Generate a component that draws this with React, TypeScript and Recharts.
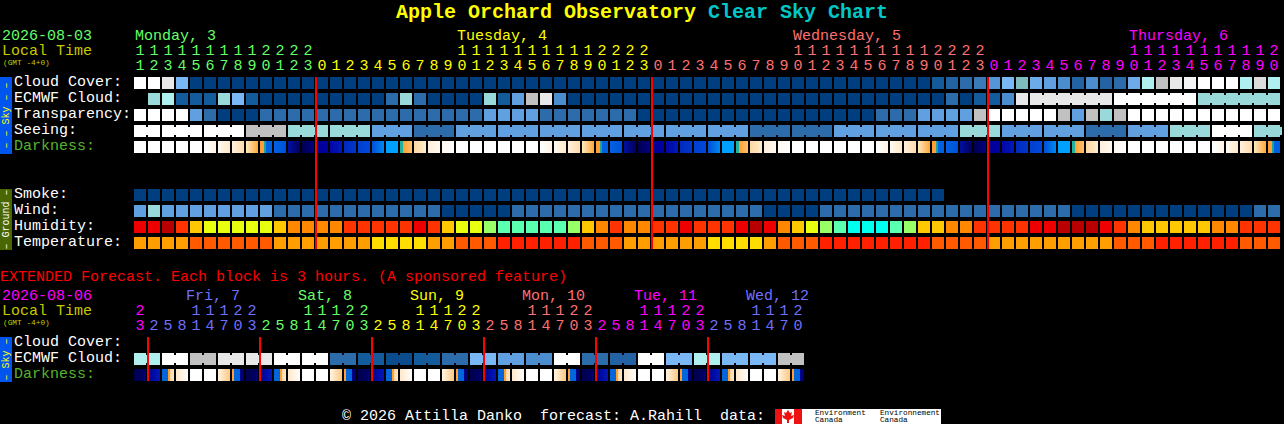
import React from "react";
import { ScatterChart, Scatter, XAxis, YAxis, ReferenceLine } from "recharts";

// hour of each column in the hourly chart
const HOURS = [
  11, 12, 13, 14, 15, 16, 17, 18, 19, 20, 21, 22, 23,
  0, 1, 2, 3, 4, 5, 6, 7, 8, 9, 10, 11, 12, 13, 14, 15, 16, 17, 18, 19, 20, 21, 22, 23,
  0, 1, 2, 3, 4, 5, 6, 7, 8, 9, 10, 11, 12, 13, 14, 15, 16, 17, 18, 19, 20, 21, 22, 23,
  0, 1, 2, 3, 4, 5, 6, 7, 8, 9, 10, 11, 12, 13, 14, 15, 16, 17, 18, 19, 20,
];
const DAY_NAMES = ["Monday, 3", "Tuesday, 4", "Wednesday, 5", "Thursday, 6"];
const DAY_START_COLS = [0, 13, 37, 61];
const DAY_LABEL_COLS = [0, 23, 47, 71];
const MIDNIGHT_COLS = [13, 37, 61];

// sky rows, percent scale of the cloud palette (null = no forecast)
const CLOUD = [
  100, 100, 90, 50, 0, 0, 0, 0, 0, 0, 0, 0, 0, 0, 0, 0, 0, 0, 0, 0, 0, 0, 0, 0, 0, 0, 0, 0, 0, 0, 0, 0, 0, 0, 0, 0, 0, 0, 0, 0, 0,
  0, 0, 0, 0, 0, 0, 0, 0, 0, 0, 0, 0, 0, 0, 0, 0, 10, 15, 20, 25, 35, 50, 55, 45, 40, 30, 15, 30, 15, 20, 45, 70, 80, 90, 95, 100, 100, 100, 70, 85, 70,
];
const ECMWF = [
  null, 60, 70, 10, 10, 10, 60, 50, 10, 0, 0, 0, 0, 0, 0, 0, 0, 0, 20, 60, 20, 0, 0, 0, 0, 60, 10, 40, 80, 90, 30, 0, 0, 0, 0, 0, 0, 0, 0, 0, 0,
  0, 0, 0, 0, 0, 0, 0, 0, 0, 0, 0, 0, 0, 0, 0, 0, 0, 20, 0, 10, 10, 30, 90, 90, 90, 90, 90, 90, 90, 100, 100, 100, 100, 100, 100, 60, 60, 60, 60, 60, 60,
];
const TRANSPARENCY = [
  100, 100, 100, 100, 40, 20, 0, 0, 0, 20, 20, 20, 20, 20, 20, 20, 20, 20, 20, 20, 20, 20, 20, 20, 20, 40, 40, 40, 40, 20, 20, 20, 20, 20, 20, 20, 0, 0, 0, 0, 0,
  0, 0, 0, 0, 0, 0, 0, 0, 0, 0, 0, 0, 20, 20, 20, 40, 40, 40, 40, 80, 100, 100, 100, 100, 100, 80, 40, 80, 60, 80, 100, 100, 100, 100, 100, 100, 100, 100, 100, 100, 100,
];
const SEEING = [
  100, 100, 100, 100, 100, 100, 100, 100, 80, 80, 80, 60, 60, 60, 60, 60, 60, 40, 40, 40, 20, 20, 20, 40, 40, 40, 40, 40, 40, 40, 40, 40, 40, 40, 40, 40, 40, 40, 40, 40, 40,
  40, 40, 40, 20, 20, 20, 20, 20, 20, 40, 40, 40, 40, 40, 40, 40, 40, 40, 60, 60, 60, 40, 40, 40, 40, 40, 40, 20, 20, 20, 40, 40, 40, 60, 60, 60, 100, 100, 100, 60, 60,
];
const SEEING_GROUPS = [2, 3, 3, 3, 3, 3, 3, 3, 3, 3, 3, 3, 3, 3, 3, 3, 3, 3, 3, 3, 3, 3, 3, 3, 3, 3, 3, 3, 2];
const ECMWF_SINGLE_COLS = 64;
const ECMWF_GROUPS = [6, 6, 6];
const DARKNESS = [
  0, 0, 0, 0, 0, 1, 2, 3, 4, 5, 6, 7, 8, 9, 10, 11, 12, 13, 14, 15, 16, 17, 18, 0,
  0, 0, 0, 0, 0, 1, 2, 3, 4, 5, 6, 7, 8, 9, 10, 11, 12, 13, 14, 15, 16, 17, 18, 0,
  0, 0, 0, 0, 0, 1, 2, 3, 4, 5, 6, 7, 8, 9, 10, 11, 12, 13, 14, 15, 16, 17, 18, 0,
  0, 0, 0, 0, 0, 1, 2, 3, 4, 5,
];

// ground rows
const SMOKE = [
  0, 0, 0, 0, 0, 0, 0, 0, 0, 0, 0, 0, 0, 0, 0, 0, 0, 0, 0, 0, 0, 0, 0, 0, 0, 0, 0, 0, 0,
  0, 0, 0, 0, 0, 0, 0, 0, 0, 0, 0, 0, 0, 0, 0, 0, 0, 0, 0, 0, 0, 0, 0, 0, 0, 0, 0, 0, 0,
];
const WIND = [
  40, 60, 40, 40, 40, 40, 40, 40, 40, 40, 20, 20, 20, 20, 20, 20, 20, 20, 20, 20, 20, 20, 0, 0, 0, 0, 0, 20, 20, 20, 20, 20, 20, 20, 20, 20, 20, 20, 20, 20, 20,
  20, 20, 20, 20, 0, 0, 0, 0, 20, 20, 20, 20, 20, 20, 20, 20, 20, 20, 20, 20, 20, 20, 20, 20, 20, 20, 0, 0, 0, 0, 0, 0, 0, 0, 0, 0, 0, 0, 0, 20, 20,
];
const HUMIDITY = [
  7, 7, 8, 6, 4, 3, 3, 3, 3, 3, 4, 5, 5, 5, 5, 6, 6, 6, 6, 6, 7, 6, 4, 3, 3, 2, 1, 1, 1, 1, 1, 2, 4, 5, 6, 5, 5, 6, 6, 7, 6,
  6, 6, 7, 8, 7, 5, 4, 3, 2, 1, 0, 0, 0, 1, 2, 4, 4, 5, 5, 6, 6, 6, 6, 7, 7, 8, 8, 8, 7, 6, 5, 4, 4, 4, 4, 4, 5, 5, 6, 6, 6,
];
const TEMPERATURE = [
  2, 2, 2, 2, 1, 1, 1, 1, 1, 1, 2, 2, 2, 2, 2, 2, 2, 3, 3, 3, 3, 2, 2, 1, 1, 1, 0, 0, 0, 0, 0, 0, 1, 1, 1, 2, 2, 2, 2, 2, 2,
  3, 3, 3, 3, 2, 1, 1, 1, 0, 0, 0, 0, 0, 0, 0, 0, 1, 1, 1, 1, 2, 2, 2, 2, 2, 2, 2, 2, 2, 1, 1, 1, 0, 0, 0, 0, 0, 0, 1, 1, 1,
];

// extended forecast, 3 hour blocks
const EXT_HOURS = [
  23, 2, 5, 8, 11, 14, 17, 20, 23, 2, 5, 8, 11, 14, 17, 20, 23, 2, 5, 8, 11, 14, 17, 20,
  23, 2, 5, 8, 11, 14, 17, 20, 23, 2, 5, 8, 11, 14, 17, 20, 23, 2, 5, 8, 11, 14, 17, 20,
];
const EXT_DAY_NAMES = ["", "Fri, 7", "Sat, 8", "Sun, 9", "Mon, 10", "Tue, 11", "Wed, 12"];
const EXT_DAY_START_COLS = [0, 1, 9, 17, 25, 33, 41];
const EXT_DAY_LABEL_COLS = [-1, 4, 12, 20, 28, 36, 44];
const EXT_MIDNIGHT_COLS = [1, 9, 17, 25, 33, 41];
const EXT_ECMWF = [
  70, 70, 100, 100, 80, 80, 90, 90, 90, 90, 100, 100, 100, 100, 20, 20, 10, 10, 5, 5, 10, 10, 20, 20,
  50, 50, 40, 40, 30, 30, 100, 100, 20, 20, 15, 15, 100, 100, 50, 50, 70, 70, 50, 50, 50, 50, 80, 80,
];
const EXT_ECMWF_GROUPS = [2, 2, 2, 2, 2, 2, 2, 2, 2, 2, 2, 2, 2, 2, 2, 2, 2, 2, 2, 2, 2, 2, 2, 2];
const EXT_DARKNESS = [
  0, 1, 2, 3, 4, 4, 6, 7, 0, 1, 2, 3, 4, 4, 6, 7, 0, 1, 2, 3, 4, 4, 6, 7,
  0, 1, 2, 3, 4, 4, 6, 7, 0, 1, 2, 3, 4, 4, 6, 7, 0, 1, 2, 3, 4, 4, 6, 7,
];

const ROW_LABELS = ["Cloud Cover:", "ECMWF Cloud:", "Transparency:", "Seeing:", "Darkness:", "", "", "Smoke:", "Wind:", "Humidity:", "Temperature:"];
const EXT_ROW_LABELS = ["Cloud Cover:", "ECMWF Cloud:", "Darkness:"];

const FONT = '"Liberation Mono", monospace';
const DAY_COLORS = ["#66ff66", "#ffff00", "#ff7070", "#ff00ff"];
const EXT_DAY_COLORS = ["#ff00ff", "#7070ff", "#66ff66", "#ffff00", "#ff7070", "#ff00ff", "#7070ff"];

const CLOUD_COLORS: Record<number, string> = {
  0: "#003f7f",
  5: "#0b4c8c",
  10: "#135b9a",
  15: "#2363a3",
  20: "#2c6cab",
  25: "#3a7ab8",
  30: "#4c8dcf",
  35: "#5596d8",
  40: "#60a0e0",
  45: "#6caceb",
  50: "#7ab8f5",
  55: "#7fbcc0",
  60: "#99d9d9",
  70: "#afefef",
  80: "#c1c1c1",
  85: "#dcdcdc",
  90: "#e8e8e8",
  95: "#f4f4f4",
  100: "#ffffff",
};
const HUMIDITY_COLORS = ["#00ffee", "#5affb0", "#99ff66", "#e8ff10", "#ffc800", "#ff8800", "#ff3300", "#ee0000", "#b80000"];
const TEMPERATURE_COLORS = ["#ff2000", "#ff5a00", "#ff9e00", "#ffdd00"];

type Stop = [number, string];
const DARK_STOPS: Stop[][] = [
  [[0, "#ffffff"], [1, "#ffffff"]],
  [[0, "#ffffff"], [1, "#fff4e4"]],
  [[0, "#fffaf2"], [1, "#ffe8c8"]],
  [[0, "#fff0dc"], [1, "#ffdcae"]],
  [[0, "#ffe8c0"], [1, "#ffa838"]],
  [[0, "#ffa030"], [0.33, "#ffa030"], [0.33, "#20a0a0"], [0.5, "#20a0a0"], [0.5, "#0060e0"], [1, "#0060e0"]],
  [[0, "#0062e2"], [1, "#0052d8"]],
  [[0, "#0010a0"], [1, "#000060"]],
  [[0, "#000050"], [1, "#000080"]],
  [[0, "#000090"], [1, "#0000a8"]],
  [[0, "#0008a8"], [1, "#0018b8"]],
  [[0, "#0028c0"], [1, "#0038c8"]],
  [[0, "#0040d0"], [1, "#0048d8"]],
  [[0, "#0050d8"], [1, "#0088f0"]],
  [[0, "#00a0ff"], [1, "#00a0ff"]],
  [[0, "#20b0a0"], [0.25, "#20b0a0"], [0.25, "#ffa030"], [1, "#ffc070"]],
  [[0, "#ffd8a0"], [1, "#ffeccc"]],
  [[0, "#fff0dc"], [1, "#fff8ee"]],
  [[0, "#fff8f0"], [1, "#ffffff"]],
];
const EXT_DARK_STOPS: Stop[][] = [
  [[0, "#000050"], [0.7, "#000060"], [1, "#000080"]],
  [[0, "#000090"], [1, "#0018b8"]],
  [[0, "#0066dd"], [0.5, "#0066dd"], [0.5, "#ffa030"], [0.67, "#ffa030"], [0.67, "#ffd8a0"], [1, "#ffe8c8"]],
  [[0, "#ffe8c8"], [1, "#ffffff"]],
  [[0, "#ffffff"], [1, "#ffffff"]],
  [[0, "#ffffff"], [1, "#ffffff"]],
  [[0, "#fff4e4"], [1, "#ffc880"]],
  [[0, "#ffa030"], [0.17, "#ffa030"], [0.17, "#0066dd"], [0.67, "#0066dd"], [0.67, "#000090"], [1, "#000060"]],
];

// every block except the last of a group gets a bridge to its neighbour
function bridged(groups: number[], skip = 0) {
  const out: boolean[] = new Array(skip).fill(false);
  groups.forEach((n) => {
    for (let i = 0; i < n; i++) out.push(i < n - 1);
  });
  return out;
}

function toPoints(values: (number | null)[], row: number, fills: (v: number) => string, joins?: boolean[]) {
  const pts: { col: number; row: number; fill: string; join: boolean }[] = [];
  values.forEach((v, col) => {
    if (v === null) return;
    pts.push({ col, row, fill: fills(v), join: !!joins?.[col] });
  });
  return pts;
}

function Block(props: any) {
  const { cx, cy, payload } = props;
  return (
    <g>
      <rect x={cx - 6} y={cy - 6} width={12} height={12} fill={payload.fill} />
      {payload.join && <rect x={cx + 6} y={cy - 4} width={2} height={8} fill={payload.fill} />}
    </g>
  );
}

function Gradients({ prefix, table }: { prefix: string; table: Stop[][] }) {
  return (
    <defs>
      {table.map((stops, i) => (
        <linearGradient key={i} id={`${prefix}${i}`} x1="0" y1="0" x2="1" y2="0">
          {stops.map(([o, c], j) => (
            <stop key={j} offset={o} stopColor={c} />
          ))}
        </linearGradient>
      ))}
    </defs>
  );
}

function hourTick(
  hours: number[],
  starts: number[],
  colors: string[],
  labelCols: number[],
  names: string[],
  nameShift: number,
  top: number,
) {
  return (props: any) => {
    const col = props.payload.value as number;
    const hour = hours[col];
    let day = 0;
    starts.forEach((s, i) => {
      if (col >= s) day = i;
    });
    const labelIdx = labelCols.indexOf(col);
    return (
      <g fontFamily={FONT} fontSize={15}>
        {labelIdx >= 0 && (
          <text x={props.x + nameShift} y={top} fill={colors[labelIdx]} style={{ whiteSpace: "pre" }}>
            {names[labelIdx]}
          </text>
        )}
        {hour >= 10 && (
          <text x={props.x} y={top + 15} textAnchor="middle" fill={colors[day]}>
            {Math.floor(hour / 10)}
          </text>
        )}
        <text x={props.x} y={top + 30} textAnchor="middle" fill={colors[day]}>
          {hour % 10}
        </text>
      </g>
    );
  };
}

function rowTick(labels: string[]) {
  return (props: any) => {
    const label = labels[props.payload.value];
    return (
      <text x={14} y={props.y + 3} fontFamily={FONT} fontSize={15} fill={label === "Darkness:" ? "#55b52a" : "#ffffff"}>
        {label}
      </text>
    );
  };
}

const mainCols = HOURS.map((_, i) => i);
const extCols = EXT_HOURS.map((_, i) => i);
const cloudFill = (v: number) => CLOUD_COLORS[v];
const mainRows = [
  toPoints(CLOUD, 0, cloudFill),
  toPoints(ECMWF, 1, cloudFill, bridged(ECMWF_GROUPS, ECMWF_SINGLE_COLS)),
  toPoints(TRANSPARENCY, 2, cloudFill),
  toPoints(SEEING, 3, cloudFill, bridged(SEEING_GROUPS)),
  toPoints(DARKNESS, 4, (v) => `url(#dark${v})`),
  toPoints(SMOKE, 7, cloudFill),
  toPoints(WIND, 8, cloudFill),
  toPoints(HUMIDITY, 9, (v) => HUMIDITY_COLORS[v]),
  toPoints(TEMPERATURE, 10, (v) => TEMPERATURE_COLORS[v]),
];
const extRows = [
  toPoints(EXT_ECMWF, 1, cloudFill, bridged(EXT_ECMWF_GROUPS)),
  toPoints(EXT_DARKNESS, 2, (v) => `url(#extdark${v})`),
];

const layer: React.CSSProperties = { position: "absolute", left: 0, top: 0 };

function Band({ top, bottom, fill, color, text }: { top: number; bottom: number; fill: string; color: string; text: string }) {
  const mid = (top + bottom) / 2;
  return (
    <g>
      <rect x={0} y={top} width={12} height={bottom - top} fill={fill} />
      <text
        x={6}
        y={mid}
        transform={`rotate(-90 6 ${mid})`}
        textAnchor="middle"
        dominantBaseline="central"
        fontFamily={FONT}
        fontSize={10}
        fill={color}
        style={{ whiteSpace: "pre" }}
      >
        {text}
      </text>
    </g>
  );
}

function T({ x, y, fill, size = 15, children }: { x: number; y: number; fill: string; size?: number; children: React.ReactNode }) {
  return (
    <text x={x} y={y} fill={fill} fontFamily={FONT} fontSize={size} style={{ whiteSpace: "pre" }}>
      {children}
    </text>
  );
}

function Overlay() {
  return (
    <svg width={1284} height={424} style={layer}>
      <text y={18} fontFamily={FONT} fontSize={20} fontWeight="bold" style={{ whiteSpace: "pre" }}>
        <tspan x={396} fill="#ffff00">Apple Orchard Observatory</tspan>
        <tspan fill="#00c8c8"> Clear Sky Chart</tspan>
      </text>
      <T x={2} y={40} fill="#66ff66">2026-08-03</T>
      <T x={2} y={55} fill="#c8c800">Local Time</T>
      <T x={3} y={65} fill="#c8c800" size={7.8}>(GMT -4+0)</T>
      <Band top={77} bottom={154} fill="#0055ee" color="#ffff00" text="– – Sky – –" />
      <Band top={189} bottom={250} fill="#4a6600" color="#ffffff" text="– Ground –" />
      <T x={0} y={281} fill="#ff0000">EXTENDED Forecast. Each block is 3 hours. (A sponsored feature)</T>
      <T x={2} y={300} fill="#ff00ff">2026-08-06</T>
      <T x={2} y={315} fill="#c8c800">Local Time</T>
      <T x={3} y={325} fill="#c8c800" size={7.8}>(GMT -4+0)</T>
      <Band top={337} bottom={382} fill="#0055ee" color="#ffff00" text="– Sky –" />
      <T x={342} y={420} fill="#ffffff">© 2026 Attilla Danko  forecast: A.Rahill  data:</T>
      <rect x={775} y={409} width={166} height={15} fill="#ffffff" />
      <rect x={775} y={409} width={7} height={15} fill="#ee1111" />
      <rect x={794} y={409} width={8} height={15} fill="#ee1111" />
      <polygon points="788,410 790,413 792,412 791,416 794,415 793,418 789,420 789,423 787,423 787,420 783,418 782,415 785,416 784,412 786,413" fill="#ee1111" />
      <T x={815} y={415} fill="#000000" size={7.7}>Environment</T>
      <T x={815} y={422} fill="#000000" size={7.7}>Canada</T>
      <T x={880} y={415} fill="#000000" size={7.7}>Environnement</T>
      <T x={880} y={422} fill="#000000" size={7.7}>Canada</T>
    </svg>
  );
}

export default function App() {
  return (
    <div style={{ position: "absolute", left: 0, top: 0, width: 1284, height: 424, background: "#000000", overflow: "hidden" }}>
      <style>{"body{margin:0;background:#000}"}</style>
      <Overlay />
      <div style={layer}>
        <ScatterChart width={1284} height={424} margin={{ top: 74, right: 3, bottom: 173, left: 132 }}>
          <Gradients prefix="dark" table={DARK_STOPS} />
          <XAxis
            type="number"
            dataKey="col"
            orientation="top"
            height={1}
            domain={[-0.5, 81.5]}
            ticks={mainCols}
            interval={0}
            axisLine={false}
            tickLine={false}
            tick={hourTick(HOURS, DAY_START_COLS, DAY_COLORS, DAY_LABEL_COLS, DAY_NAMES, -5, 40)}
          />
          <YAxis
            type="number"
            dataKey="row"
            width={1}
            reversed
            domain={[-0.5, 10.5]}
            ticks={[0, 1, 2, 3, 4, 7, 8, 9, 10]}
            interval={0}
            axisLine={false}
            tickLine={false}
            tick={rowTick(ROW_LABELS)}
          />
          {mainRows.map((pts, i) => (
            <Scatter key={i} data={pts} shape={Block} isAnimationActive={false} />
          ))}
          {MIDNIGHT_COLS.map((c) => (
            <ReferenceLine
              key={c}
              segment={[{ x: c - 0.43, y: -0.375 }, { x: c - 0.43, y: 10.375 }]}
              stroke="#ff0000"
              strokeWidth={2}
              zIndex={1000}
            />
          ))}
        </ScatterChart>
      </div>
      <div style={layer}>
        <ScatterChart width={1284} height={424} margin={{ top: 334, right: 479, bottom: 41, left: 132 }}>
          <Gradients prefix="extdark" table={EXT_DARK_STOPS} />
          <XAxis
            type="number"
            dataKey="col"
            orientation="top"
            height={1}
            domain={[-0.5, 47.5]}
            ticks={extCols}
            interval={0}
            axisLine={false}
            tickLine={false}
            tick={hourTick(EXT_HOURS, EXT_DAY_START_COLS, EXT_DAY_COLORS, EXT_DAY_LABEL_COLS, EXT_DAY_NAMES, -10, 300)}
          />
          <YAxis
            type="number"
            dataKey="row"
            width={1}
            reversed
            domain={[-0.5, 2.5]}
            ticks={[0, 1, 2]}
            interval={0}
            axisLine={false}
            tickLine={false}
            tick={rowTick(EXT_ROW_LABELS)}
          />
          {extRows.map((pts, i) => (
            <Scatter key={i} data={pts} shape={Block} isAnimationActive={false} />
          ))}
          {EXT_MIDNIGHT_COLS.map((c) => (
            <ReferenceLine
              key={c}
              segment={[{ x: c - 0.43, y: -0.375 }, { x: c - 0.43, y: 2.375 }]}
              stroke="#ff0000"
              strokeWidth={2}
              zIndex={1000}
            />
          ))}
        </ScatterChart>
      </div>
    </div>
  );
}
